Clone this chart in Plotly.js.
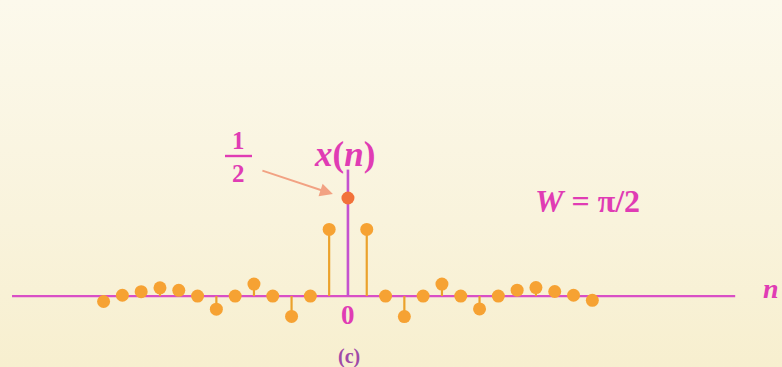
<!DOCTYPE html>
<html>
<head>
<meta charset="utf-8">
<script src="https://cdn.plot.ly/plotly-3.0.1.min.js"></script>
<style>
html,body{margin:0;padding:0;width:782px;height:367px;overflow:hidden;
background:linear-gradient(to bottom,#fcf9ec 0%,#f9f3dc 60%,#f7efcf 100%);}
#chart{width:782px;height:367px;}
</style>
</head>
<body>
<div id="chart"></div>
<script>
// sample indices n
const n = [-13,-12,-11,-10,-9,-8,-7,-6,-5,-4,-3,-2,-1,0,1,2,3,4,5,6,7,8,9,10,11,12,13];
// x(n) values (W = pi/2)
const xn = [-0.028,0.004,0.022,0.042,0.029,0,-0.067,0,0.061,0,-0.104,0,0.34,0.5,0.34,0,-0.105,0,0.061,0,-0.066,0,0.030,0.043,0.023,0.004,-0.022];

const stemX = [], stemY = [];
const sideN = [], sideV = [];
const peakN = [], peakV = [];
n.forEach((k,i)=>{
  if (k === 0) { peakN.push(k); peakV.push(xn[i]); return; }
  sideN.push(k); sideV.push(xn[i]);
  if (xn[i] !== 0) { stemX.push(k,k,null); stemY.push(0,xn[i],null); }
});

const magenta = '#d94fc6';
const txt = '#e03cb4';
const serif = 'Liberation Serif, DejaVu Serif, serif';

function label(x, y, text, size, color, xref, yref) {
  return {x:x, y:y, xref:xref||'paper', yref:yref||'paper', text:text, showarrow:false,
          xanchor:'center', yanchor:'middle', font:{family:serif, size:size, color:color||txt}};
}

const traces = [
  {x:stemX, y:stemY, mode:'lines', line:{color:'#eba22c', width:2.2}, hoverinfo:'skip', showlegend:false},
  {x:sideN, y:sideV, mode:'markers', marker:{color:'#f6a233', size:13}, showlegend:false},
  {x:peakN, y:peakV, mode:'markers', marker:{color:'#f2713a', size:13}, showlegend:false}
];

const layout = {
  width:782, height:367,
  margin:{l:0,r:0,t:0,b:0},
  paper_bgcolor:'rgba(0,0,0,0)', plot_bgcolor:'rgba(0,0,0,0)',
  xaxis:{range:[-18.51,23.09], visible:false, fixedrange:true},
  yaxis:{range:[-0.362,1.510], visible:false, fixedrange:true},
  showlegend:false,
  shapes:[
    {type:'line', xref:'x', yref:'y', x0:-17.87, x1:20.6, y0:0, y1:0, line:{color:magenta, width:2.2}, layer:'below'},
    {type:'line', xref:'x', yref:'y', x0:0, x1:0, y0:0, y1:0.645, line:{color:'#c552cf', width:2.6}, layer:'below'},
    {type:'line', xref:'paper', yref:'paper', x0:225/782, x1:252/782, y0:1-156/367, y1:1-156/367, line:{color:txt, width:2.4}}
  ],
  annotations:[
    label(-0.2, 0.72, '<b><i>x</i>(<i>n</i>)</b>', 35, txt, 'x', 'y'),
    label(238/782, 1-140/367, '<b>1</b>', 25),
    label(238/782, 1-173/367, '<b>2</b>', 25),
    label(587/782, 1-201/367, '<b><i>W</i> = π/2</b>', 32),
    label(0, -0.095, '<b>0</b>', 27, txt, 'x', 'y'),
    label(349/782, 1-356/367, '<b>(c)</b>', 20, '#a04aa8'),
    label(771/782, 1-288/367, '<b><i>n</i></b>', 28),
    {x:-0.8, y:0.52, xref:'x', yref:'y', ax:-72, ay:-24, axref:'pixel', ayref:'pixel', text:'', showarrow:true,
     arrowhead:2, arrowsize:1.3, arrowwidth:2, arrowcolor:'#f2a283'}
  ]
};

Plotly.newPlot('chart', traces, layout, {displayModeBar:false, staticPlot:true});
</script>
</body>
</html>
